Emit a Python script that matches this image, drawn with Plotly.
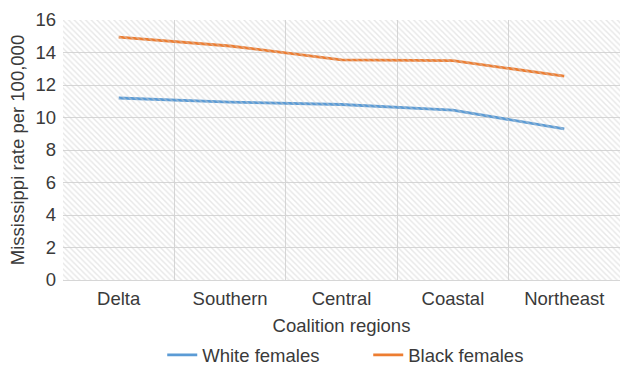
import plotly.graph_objects as go

regions = ["Delta", "Southern", "Central", "Coastal", "Northeast"]
white_females = [11.2, 10.95, 10.8, 10.45, 9.3]
black_females = [14.95, 14.4, 13.55, 13.5, 12.55]
y_ticks = [0, 2, 4, 6, 8, 10, 12, 14, 16]

FONT = "Liberation Sans, Arial, sans-serif"
TEXT = "#3a3a3a"
GRID = "#d6d6d6"
FS = 18.5

x = list(range(len(regions)))
n = len(regions)

fig = go.Figure()

# Hatched plot-area background, drawn on an overlaid unit axis
fig.add_trace(go.Scatter(
    x=[0, 1, 1, 0, 0], y=[0, 0, 1, 1, 0],
    xaxis="x2", yaxis="y2",
    mode="lines", line=dict(width=0),
    fill="toself", fillcolor="rgba(0,0,0,0)",
    fillpattern=dict(shape="\\", fgcolor="#cfcfcf", bgcolor="rgba(0,0,0,0)",
                     size=4, solidity=0.35),
    hoverinfo="skip", showlegend=False,
))

fig.add_trace(go.Scatter(
    x=x, y=white_females, name="White females", mode="lines",
    line=dict(color="#5B9BD5", width=2.8),
))
fig.add_trace(go.Scatter(
    x=x, y=black_females, name="Black females", mode="lines",
    line=dict(color="#ED7D31", width=2.8),
))

fig.update_layout(
    width=620, height=365,
    margin=dict(l=63, r=0, t=20, b=85, autoexpand=False),
    paper_bgcolor="white", plot_bgcolor="white",
    font=dict(family=FONT, size=FS, color=TEXT),
    showlegend=True,
    legend=dict(orientation="h", x=0.548, xanchor="center", y=-0.29, yanchor="middle",
                font=dict(size=FS, color=TEXT), tracegroupgap=0,
                entrywidth=161, entrywidthmode="pixels"),
    xaxis=dict(
        range=[-0.5, n - 0.5], tickvals=x, ticktext=regions,
        showgrid=False, zeroline=False, showline=True, linecolor=GRID,
        ticks="", tickfont=dict(size=FS, color=TEXT), ticklabelstandoff=2,
        minor=dict(tickvals=[i - 0.5 for i in range(n + 1)], showgrid=True,
                   gridcolor=GRID, gridwidth=1, ticks=""),
        title=dict(text="Coalition regions", font=dict(size=FS, color=TEXT), standoff=10),
    ),
    yaxis=dict(
        range=[0, 16], tickvals=y_ticks, showgrid=True, gridcolor=GRID, gridwidth=1,
        zeroline=False, showline=False, ticks="", ticklabelstandoff=6,
        tickfont=dict(size=FS, color=TEXT),
        title=dict(text="Mississippi rate per 100,000", font=dict(size=FS, color=TEXT),
                   standoff=5),
    ),
    xaxis2=dict(range=[0, 1], overlaying="x", visible=False, fixedrange=True),
    yaxis2=dict(range=[0, 1], overlaying="y", visible=False, fixedrange=True),
)

fig.write_html("out.html")
